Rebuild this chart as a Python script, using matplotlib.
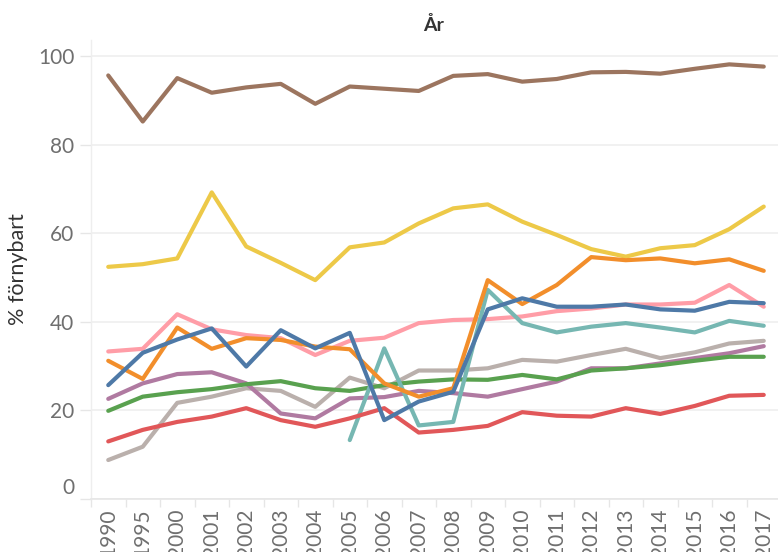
import matplotlib
matplotlib.use("Agg")
import matplotlib.pyplot as plt
from matplotlib.transforms import ScaledTranslation

years = ["1990", "1995", "2000", "2001", "2002", "2003", "2004", "2005", "2006", "2007",
         "2008", "2009", "2010", "2011", "2012", "2013", "2014", "2015", "2016", "2017"]

# Series (Tableau 10 colour order; first is drawn on top)
serie_bla = [25.7, 33.0, 36.0, 38.5, 29.9, 38.1, 34.0, 37.5, 17.8, 22.0,
             24.2, 42.8, 45.3, 43.4, 43.4, 43.9, 42.8, 42.5, 44.5, 44.2]
serie_orange = [31.2, 27.1, 38.7, 33.9, 36.3, 35.9, 34.4, 33.8, 26.1, 23.1,
                25.0, 49.4, 44.0, 48.3, 54.6, 53.9, 54.3, 53.2, 54.1, 51.5]
serie_rod = [13.0, 15.6, 17.4, 18.6, 20.5, 17.8, 16.3, 18.2, 20.5, 15.0,
             15.6, 16.5, 19.6, 18.8, 18.6, 20.5, 19.2, 21.0, 23.3, 23.5]
serie_turkos = [None, None, None, None, None, None, None, 13.3, 34.0, 16.6,
                17.4, 47.2, 39.7, 37.6, 38.9, 39.7, 38.7, 37.6, 40.2, 39.1]
serie_gron = [19.9, 23.1, 24.1, 24.8, 25.9, 26.6, 25.0, 24.4, 25.7, 26.5,
              27.0, 26.9, 28.0, 27.0, 29.0, 29.5, 30.2, 31.2, 32.1, 32.1]
serie_gul = [52.4, 53.0, 54.3, 69.2, 57.0, 53.3, 49.4, 56.8, 57.9, 62.2,
             65.6, 66.5, 62.6, 59.6, 56.4, 54.7, 56.6, 57.3, 60.9, 66.0]
serie_lila = [22.6, 26.1, 28.2, 28.6, 26.1, 19.3, 18.2, 22.7, 23.0, 24.4,
              23.9, 23.1, 24.8, 26.5, 29.5, 29.5, 30.6, 31.8, 32.9, 34.5]
serie_rosa = [33.3, 33.9, 41.7, 38.3, 37.0, 36.3, 32.5, 35.7, 36.4, 39.7,
              40.4, 40.6, 41.2, 42.4, 43.0, 43.9, 43.9, 44.3, 48.3, 43.4]
serie_brun = [95.6, 85.2, 95.0, 91.7, 92.9, 93.7, 89.2, 93.1, 92.6, 92.1,
              95.5, 95.9, 94.2, 94.8, 96.3, 96.4, 96.0, 97.1, 98.1, 97.6]
serie_gra = [8.8, 11.8, 21.7, 23.1, 25.0, 24.4, 20.8, 27.4, 25.0, 29.0,
             29.0, 29.5, 31.4, 31.0, 32.5, 33.9, 31.8, 33.1, 35.1, 35.7]

series = [serie_bla, serie_orange, serie_rod, serie_turkos, serie_gron,
          serie_gul, serie_lila, serie_rosa, serie_brun, serie_gra]
colors = ["#4e79a7", "#f28e2b", "#e15759", "#76b7b2", "#59a14f",
          "#edc948", "#b07aa1", "#ff9da7", "#9c755f", "#bab0ac"]

W, H = 778, 552
fig = plt.figure(figsize=(W / 100, H / 100), dpi=100)
ax = fig.add_axes([91 / W, (H - 499) / H, (781 - 91) / W, (499 - 40) / H])

x = list(range(len(years)))
n = len(series)
for i, (vals, c) in enumerate(zip(series, colors)):
    xs = [xi for xi, v in zip(x, vals) if v is not None]
    ys = [v for v in vals if v is not None]
    ax.plot(xs, ys, color=c, lw=3.0, solid_capstyle="round",
            solid_joinstyle="round", zorder=3 + (n - i))

ax.set_xlim(-0.5, len(years) - 0.5)
ax.set_ylim(0, 103.6)

font = "Lato"
tick_col = "#6f6f6f"
line_col = "#e6e6e6"

ax.set_yticks([0, 20, 40, 60, 80, 100])
ax.set_yticklabels(["0", "20", "40", "60", "80", "100"], fontsize=15,
                   color=tick_col, family=font)
ax.tick_params(axis="y", length=8, width=1, color=line_col, pad=4)
ax.grid(axis="y", color="#eeeeee", lw=1.1, zorder=0)

# x ticks: labels at centres, tick marks at category boundaries
ax.set_xticks(x)
ax.set_xticklabels(years, rotation=90, fontsize=15, color=tick_col,
                   family=font, va="top", ha="center")
ax.tick_params(axis="x", length=0, pad=7)
ax.set_xticks([i - 0.5 for i in range(len(years) + 1)], minor=True)
ax.tick_params(axis="x", which="minor", length=6, width=1, color=line_col)

for s in ["top", "right"]:
    ax.spines[s].set_visible(False)
ax.spines["left"].set_color("#eeeeee")
ax.spines["bottom"].set_color(line_col)
ax.spines["left"].set_linewidth(1)
ax.spines["bottom"].set_linewidth(1.2)

# lift the "0" label like the reference
lab0 = ax.get_yticklabels()[0]
lab0.set_transform(lab0.get_transform() + ScaledTranslation(0, 9 / 72, fig.dpi_scale_trans))

ax.set_ylabel("% förnybart", fontsize=15.5, color="#333333", family=font)
ax.yaxis.set_label_coords(-(91 - 28) / (781 - 91), 0.5)

fig.text(434 / W, 1 - 25 / H, "År", ha="center", va="center", fontsize=14,
         color="#333333", family=font, fontweight="bold")

fig.savefig("out.png", dpi=100)
